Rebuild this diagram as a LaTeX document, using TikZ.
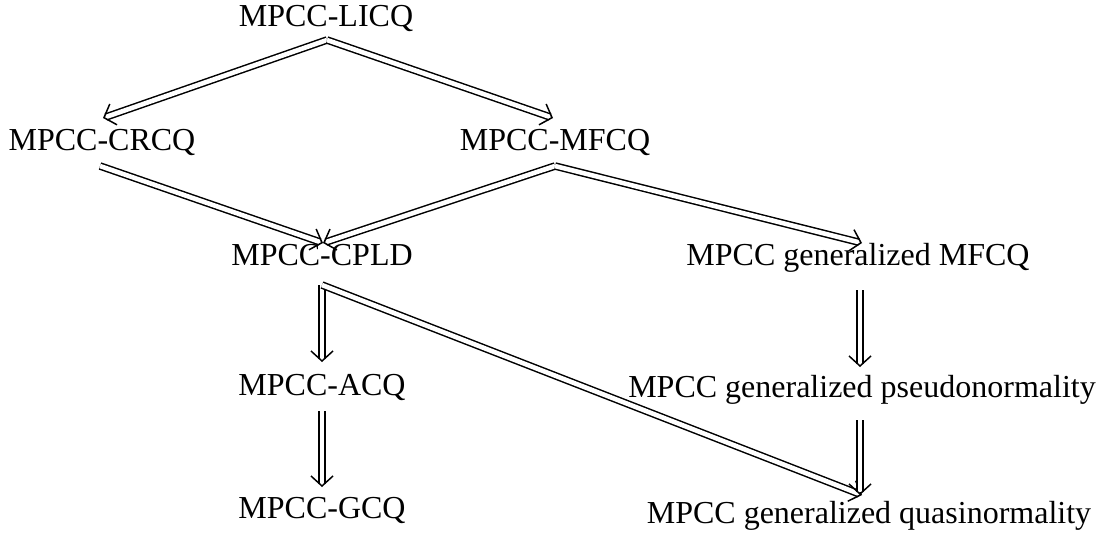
\documentclass[tikz,border=0pt]{standalone}
\usepackage{fontspec}
\setmainfont{Liberation Serif}
\usetikzlibrary{arrows.meta,calc}
\newcommand\implarrow[2]{%
  \draw[dbl] (#1) -- (#2);
  \draw[tipst] ($(#2)!2pt!(#1)$) -- (#2);}
\begin{document}
\begin{tikzpicture}[x=1pt,y=-1pt,
  lbl/.style={anchor=base,inner sep=0pt,font=\fontsize{32}{38}\selectfont},
  dbl/.style={double,double distance=4.6pt,line width=1.5pt,shorten >=3pt},
  tipst/.style={line width=1.5pt,-{Straight Barb[length=10pt,width=22pt,line width=1.5pt]}}]
\useasboundingbox (0,0) rectangle (1105,539);
\node[lbl] (licq) at (326,26) {MPCC-LICQ};
\node[lbl] (crcq) at (102,150) {MPCC-CRCQ};
\node[lbl] (mfcq) at (555,150) {MPCC-MFCQ};
\node[lbl] (cpld) at (322,265) {MPCC-CPLD};
\node[lbl] (gmfcq) at (858,265) {MPCC generalized MFCQ};
\node[lbl] (acq) at (322,395) {MPCC-ACQ};
\node[lbl] (pseudo) at (862,397) {MPCC generalized pseudonormality};
\node[lbl] (gcq) at (322,518) {MPCC-GCQ};
\node[lbl] (quasi) at (869,523) {MPCC generalized quasinormality};
\coordinate (licqS) at ([shift={(1,14)}]licq.base);
\coordinate (crcqN) at ([shift={(1,-32)}]crcq.base);
\coordinate (crcqS) at ([shift={(-2,16)}]crcq.base);
\coordinate (mfcqN) at ([shift={(-2,-32)}]mfcq.base);
\coordinate (mfcqS) at ([shift={(0,16)}]mfcq.base);
\coordinate (cpldN) at ([shift={(1,-22)}]cpld.base);
\coordinate (cpldS) at ([shift={(0,20)}]cpld.base);
\coordinate (gmfcqN) at ([shift={(4,-22)}]gmfcq.base);
\coordinate (gmfcqS) at ([shift={(2,25)}]gmfcq.base);
\coordinate (acqN) at ([shift={(0,-33)}]acq.base);
\coordinate (acqS) at ([shift={(0,16)}]acq.base);
\coordinate (gcqN) at ([shift={(0,-31)}]gcq.base);
\coordinate (pseudoN) at ([shift={(-2,-30)}]pseudo.base);
\coordinate (pseudoS) at ([shift={(-2,23)}]pseudo.base);
\coordinate (quasiNa) at ([shift={(-7,-28)}]quasi.base);
\coordinate (quasiNb) at ([shift={(-9,-28)}]quasi.base);
\implarrow{licqS}{crcqN}
\implarrow{licqS}{mfcqN}
\implarrow{crcqS}{cpldN}
\implarrow{mfcqS}{cpldN}
\implarrow{mfcqS}{gmfcqN}
\implarrow{cpldS}{acqN}
\implarrow{cpldS}{quasiNa}
\implarrow{acqS}{gcqN}
\implarrow{gmfcqS}{pseudoN}
\implarrow{pseudoS}{quasiNb}
\end{tikzpicture}
\end{document}
